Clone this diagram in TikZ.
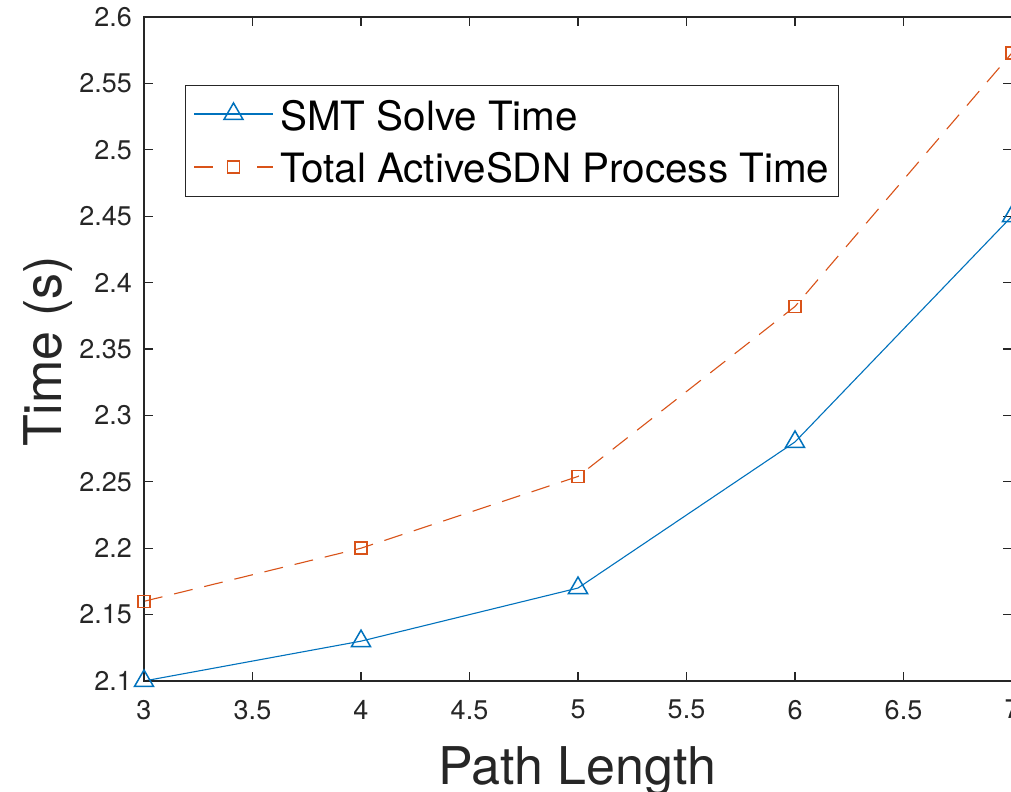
\documentclass[tikz,border=0pt]{standalone}
\usepackage{fontspec}
\setmainfont{TeX Gyre Heros}
\usetikzlibrary{shapes.geometric}
\definecolor{mblue}{rgb}{0,0.447,0.741}
\definecolor{morange}{rgb}{0.85,0.325,0.098}
\definecolor{axgray}{rgb}{0.15,0.15,0.15}
\pgfdeclarelayer{background}
\pgfsetlayers{background,main}
\begin{document}
\begin{tikzpicture}[x=1bp,y=1bp,
  axisline/.style={draw=axgray,line width=1.3bp},
  ticklabel/.style={text=axgray,inner sep=0pt,font=\fontsize{27bp}{30bp}\selectfont},
  axislabel/.style={text=axgray,inner sep=0pt,font=\fontsize{52bp}{60bp}\selectfont},
  legtext/.style={text=black,inner sep=0pt,anchor=base west,font=\fontsize{40.4bp}{46bp}\selectfont},
  trimark/.style={draw=mblue,regular polygon,regular polygon sides=3,minimum size=22bp,inner sep=0pt,line width=1.5bp},
  sqmark/.style={draw=morange,rectangle,minimum size=12bp,inner sep=0pt,line width=1.5bp},
  smtline/.style={draw=mblue,line width=1.1bp},
  totline/.style={draw=morange,line width=1.1bp,dash pattern=on 19bp off 12bp},
]
\useasboundingbox (0,0) rectangle (1011,792);
\clip (0,0) rectangle (1011,792);
\begin{pgfonlayer}{background}
  \fill[white] (0,0) rectangle (1011,792);
\end{pgfonlayer}

% axes frame
\coordinate (axLL) at (144,111);
\coordinate (axUR) at (1012,775);
\draw[axisline] (axLL) rectangle (axUR);

% y ticks and labels
\foreach \lab [count=\i from 0] in {2.1,2.15,2.2,2.25,2.3,2.35,2.4,2.45,2.5,2.55,2.6} {
  \pgfmathsetmacro\yy{111+\i*66.4}
  \draw[axisline] (144,\yy) -- ++(9,0);
  \draw[axisline] (1012,\yy) -- ++(-9,0);
  \node[ticklabel,anchor=east] (yt\i) at (132,\yy) {\lab};
}
% x ticks and labels
\foreach \lab [count=\i from 0] in {3,3.5,4,4.5,5,5.5,6,6.5,7} {
  \pgfmathsetmacro\xx{144+\i*108.5}
  \draw[axisline] (\xx,111) -- ++(0,9);
  \draw[axisline] (\xx,775) -- ++(0,-9);
  \node[ticklabel,anchor=north] (xt\i) at (\xx,92) {\lab};
}

% axis titles
\node[axislabel,anchor=base] (xlab) at (577.5,7) {Path Length};
\node[axislabel,anchor=base west,rotate=90] (ylab) at (61,345) {Time (s)};

% data in axis units
\begin{scope}[x=217bp,y=1328bp,shift={(-507bp,-2677.8bp)}]
  \node[trimark] (s3) at (3,2.10) {};
  \node[trimark] (s4) at (4,2.13) {};
  \node[trimark] (s5) at (5,2.17) {};
  \node[trimark] (s6) at (6,2.28) {};
  \node[trimark] (s7) at (7,2.45) {};
  \node[sqmark] (t3) at (3,2.16) {};
  \node[sqmark] (t4) at (4,2.20) {};
  \node[sqmark] (t5) at (5,2.254) {};
  \node[sqmark] (t6) at (6,2.382) {};
  \node[sqmark] (t7) at (7,2.573) {};
\end{scope}
\begin{pgfonlayer}{background}
  \draw[smtline] (s3.center) -- (s4.center) -- (s5.center) -- (s6.center) -- (s7.center);
  \draw[totline] (t3.center) -- (t4.center) -- (t5.center) -- (t6.center) -- (t7.center);
\end{pgfonlayer}

% legend
\node[draw=axgray,fill=white,line width=1.1bp,minimum width=653bp,minimum height=111bp,inner sep=0pt,anchor=north west] (legend) at (185,707) {};
\coordinate (legSa) at (194,678);
\coordinate (legSb) at (273,678);
\draw[smtline] (legSa) -- (legSb);
\node[trimark] (legS) at (233.5,678) {};
\coordinate (legTa) at (194,625);
\coordinate (legTb) at (273,625);
\draw[totline,dash pattern=on 19bp off 44bp] (legTa) -- (legTb);
\node[sqmark] (legT) at (233.5,625) {};
\node[legtext] (legSt) at (280,661) {SMT Solve Time};
\node[legtext] (legTt) at (280,609.3) {Total ActiveSDN Process Time};
\end{tikzpicture}
\end{document}
